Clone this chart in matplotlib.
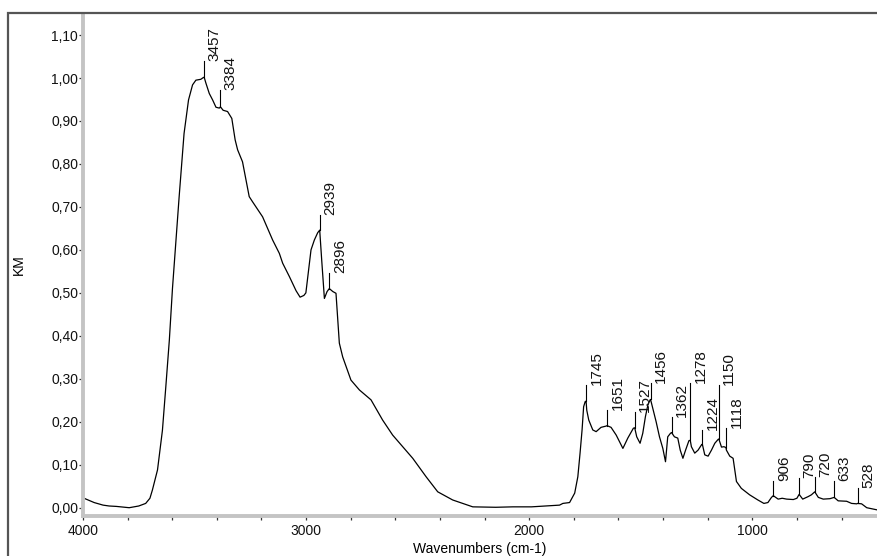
import numpy as np
import matplotlib
matplotlib.use("Agg")
import matplotlib.pyplot as plt
import matplotlib.transforms as mtransforms
from matplotlib.patches import Rectangle
from matplotlib.ticker import FixedLocator, MultipleLocator, FuncFormatter

plt.rcParams['font.family'] = ['Liberation Sans', 'DejaVu Sans']

# ---- spectrum data (wavenumber cm-1, KM) ----
wavenumbers = [4000, 3950, 3910, 3883, 3850, 3793, 3750, 3719, 3700, 3689, 3666, 3644, 3629,
               3613, 3599, 3569, 3547, 3527, 3509, 3494, 3472, 3461, 3457, 3449, 3434,
               3419, 3404, 3389, 3384, 3372, 3352, 3333, 3318, 3307, 3285, 3255,
               3240, 3195, 3150, 3120, 3105, 3075, 3045,
               3027, 3010, 3001, 2978, 2963, 2948, 2939, 2930, 2918, 2906, 2896, 2880,
               2866, 2851, 2836, 2799, 2761, 2709, 2657, 2612, 2522, 2462, 2410, 2343,
               2253, 2150, 2073, 1990, 1924, 1864, 1849, 1819, 1796, 1782, 1772,
               1763, 1756, 1749, 1745, 1742, 1733, 1715, 1700, 1678, 1655, 1651, 1633,
               1610, 1580, 1558, 1533, 1527, 1518, 1503, 1491, 1479, 1468, 1458, 1456,
               1446, 1431, 1416, 1401, 1389, 1379, 1367, 1362, 1349, 1334, 1323, 1311,
               1299, 1284, 1278, 1273, 1258, 1243, 1228, 1224, 1213, 1198, 1183,
               1168, 1153, 1150, 1138, 1127, 1118, 1116, 1101, 1086, 1071, 1049, 1012,
               975, 948, 930, 914, 906, 884, 866, 846, 816, 800, 790, 774, 749,
               735, 720, 704, 682, 652, 633, 615, 577, 555, 532, 528, 510, 487, 441]
km_values = [0.023, 0.012, 0.006, 0.004, 0.003, 0.000, 0.004, 0.010, 0.022, 0.041, 0.088, 0.180, 0.280,
             0.390, 0.510, 0.724, 0.871, 0.949, 0.984, 0.995, 0.997, 1.001, 1.002, 0.988, 0.964,
             0.949, 0.932, 0.930, 0.933, 0.925, 0.922, 0.906, 0.856, 0.833, 0.805, 0.724,
             0.712, 0.677, 0.623, 0.592, 0.569, 0.538, 0.505,
             0.490, 0.494, 0.500, 0.600, 0.623, 0.640, 0.646, 0.576, 0.487, 0.503, 0.510, 0.503,
             0.499, 0.383, 0.351, 0.297, 0.274, 0.251, 0.204, 0.169, 0.115, 0.072, 0.037, 0.018,
             0.002, 0.001, 0.002, 0.002, 0.004, 0.006, 0.010, 0.012, 0.034, 0.072, 0.127,
             0.181, 0.235, 0.247, 0.248, 0.227, 0.204, 0.181, 0.177, 0.187, 0.190, 0.191, 0.187,
             0.169, 0.138, 0.162, 0.185, 0.186, 0.165, 0.150, 0.173, 0.212, 0.239, 0.251, 0.252,
             0.231, 0.200, 0.165, 0.138, 0.107, 0.165, 0.173, 0.175, 0.165, 0.162, 0.134, 0.115,
             0.134, 0.156, 0.157, 0.142, 0.127, 0.134, 0.146, 0.148, 0.123, 0.120, 0.134,
             0.150, 0.159, 0.160, 0.141, 0.142, 0.140, 0.134, 0.120, 0.115, 0.061, 0.045, 0.030,
             0.018, 0.010, 0.012, 0.024, 0.028, 0.020, 0.022, 0.020, 0.019, 0.022, 0.031, 0.020, 0.026,
             0.030, 0.037, 0.024, 0.020, 0.021, 0.024, 0.016, 0.015, 0.010, 0.009, 0.010, 0.009, 0.000, -0.005]

# ---- peak labels ----
peak_wn = [3457, 3384, 2939, 2896, 1745, 1651, 1527, 1456, 1362, 1278, 1224, 1150, 1118,
           906, 790, 720, 633, 528]
peak_label_top = [1.040, 0.972, 0.681, 0.546, 0.286, 0.227, 0.223, 0.290, 0.212, 0.290, 0.181,
                  0.286, 0.185, 0.061, 0.068, 0.072, 0.062, 0.045]

x_major = [4000, 3000, 2000, 1000]
y_ticks = [0.00, 0.10, 0.20, 0.30, 0.40, 0.50, 0.60, 0.70, 0.80, 0.90, 1.00, 1.10]

W, H = 877, 556
fig = plt.figure(figsize=(W / 100, H / 100), dpi=100)
ax = fig.add_axes([83 / W, 1 - 516 / H, 1 - 83 / W, (516 - 14) / H])

ax.plot(wavenumbers, km_values, color='black', lw=0.9)

ax.set_xlim(4000, 441)
ax.set_ylim(-0.0193, 1.149)

# frame around the whole graph
fig.patches.append(Rectangle((8 / W, -0.2), 1.2, 1.2 - 13 / H, transform=fig.transFigure,
                             fill=False, edgecolor='#555555', lw=1.6))

for s in ['top', 'right']:
    ax.spines[s].set_visible(False)
for s in ['left', 'bottom']:
    ax.spines[s].set_color('#c4c4c4')
    ax.spines[s].set_linewidth(2.8)

ax.xaxis.set_major_locator(FixedLocator(x_major))
ax.xaxis.set_minor_locator(MultipleLocator(200))
ax.yaxis.set_major_locator(FixedLocator(y_ticks))
ax.yaxis.set_major_formatter(FuncFormatter(lambda v, p: f"{v:.2f}".replace('.', ',')))
ax.xaxis.set_major_formatter(FuncFormatter(lambda v, p: f"{int(round(v))}"))
ax.tick_params(axis='both', which='both', direction='out', color='#333333', width=0.9,
               labelsize=10, labelcolor='#111111')
ax.tick_params(axis='y', length=3, pad=0.5)
ax.tick_params(axis='x', which='major', length=3, pad=3)
ax.tick_params(axis='x', which='minor', length=3)

ax.set_ylabel('KM', fontsize=10, labelpad=18)
ax.set_xlabel('Wavenumbers (cm-1)', fontsize=10, labelpad=3)

txt_tr = mtransforms.offset_copy(ax.transData, fig=fig, x=3.5, y=0, units='dots')
for wn, top in zip(peak_wn, peak_label_top):
    y0 = float(np.interp(wn, wavenumbers[::-1], km_values[::-1]))
    ax.plot([wn, wn], [y0, top], color='black', lw=0.8)
    ax.text(wn, top, str(wn), rotation=90, ha='left', va='bottom', fontsize=11,
            color='#111111', transform=txt_tr)

fig.savefig('out.png', dpi=100)
